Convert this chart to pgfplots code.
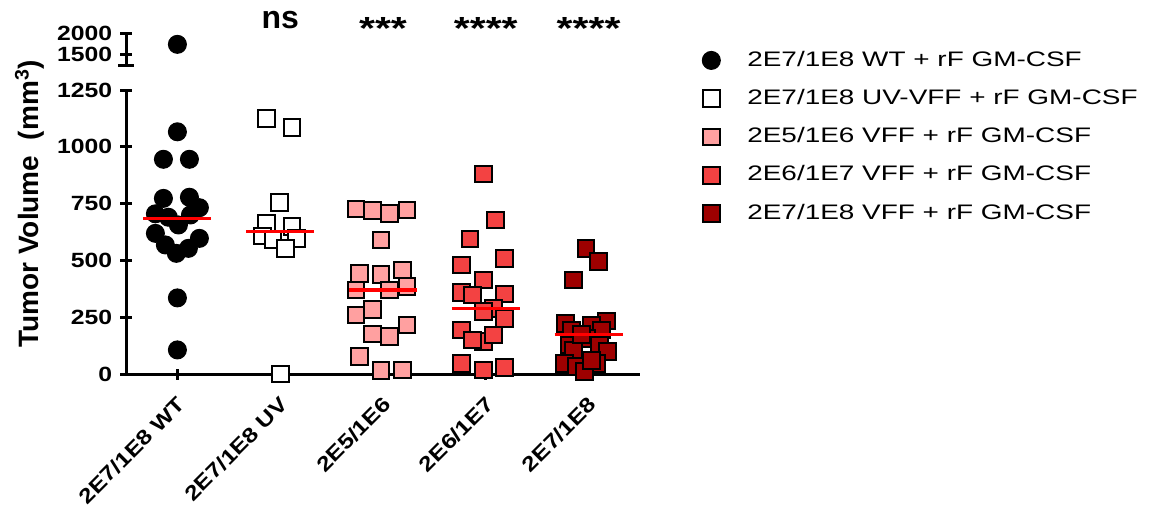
\documentclass[border=0pt]{standalone}
\usepackage{fontspec}
\setmainfont{Liberation Sans}
\newfontfamily\stretchfont[FakeStretch=1.2]{Liberation Sans}
\newfontfamily\astfont[FakeStretch=1.28]{Liberation Sans}
\newfontfamily\legfont[FakeStretch=1.33]{Liberation Sans}
\usepackage{pgfplots}
\pgfplotsset{compat=1.18}
\definecolor{pinkA}{RGB}{255,160,160}
\definecolor{redB}{RGB}{243,66,66}
\definecolor{darkC}{RGB}{158,0,0}
\pgfplotsset{
  gp/.style={
    scale only axis, width=257pt, xmin=-0.5, xmax=4.5, clip=false,
    clip marker paths=true,
    tick style={line width=1.5pt, black},
    major tick length=5.5pt, tick align=outside,
    ticklabel style={font=\stretchfont\bfseries\fontsize{10.3}{12}\selectfont},
    yticklabel style={inner sep=4pt},
  },
  noarrows/.style={axis line style={-, line width=1.5pt, black},
    every outer x axis line/.append style={-},
    every outer y axis line/.append style={-}},
  wt/.style={only marks, mark=*, mark size=4.5pt, mark options={fill=black, draw=black, line width=0.5pt}},
  uv/.style={only marks, mark=square*, mark size=4.2pt, mark options={fill=white, draw=black, line width=1pt}},
  e5/.style={only marks, mark=square*, mark size=4.2pt, mark options={fill=pinkA, draw=black, line width=1pt}},
  e6/.style={only marks, mark=square*, mark size=4.2pt, mark options={fill=redB, draw=black, line width=1pt}},
  e7/.style={only marks, mark=square*, mark size=4.2pt, mark options={fill=darkC, draw=black, line width=1pt}},
  med/.style={red, line width=1.6pt, forget plot},
}
\begin{document}
\begin{tikzpicture}
\useasboundingbox (0,0) rectangle (576pt,-254.5pt);
% upper segment of the broken axis
\begin{axis}[gp, at={(63pt,-32.65pt)}, anchor=south west, height=16pt,
  ymin=1250, ymax=2000, axis x line=none, axis y line=left, noarrows,
  xtick=\empty, ytick={1500,2000}, yticklabels={1500,2000},
  extra y ticks={1250}, extra y tick labels={},
  extra y tick style={major tick length=7.5pt, tick align=center}]
\addplot[wt] coordinates {(0,1741)};
\end{axis}
% lower segment
\begin{axis}[gp, at={(63pt,-187pt)}, anchor=south west, height=142pt,
  ymin=0, ymax=1250, axis x line=bottom, axis y line=left, noarrows,
  ytick={0,250,500,750,1000,1250}, yticklabels={0,250,500,750,1000,1250},
  xtick={0,1,2,3,4},
  xticklabels={2E7/1E8 WT, 2E7/1E8 UV, 2E5/1E6, 2E6/1E7, 2E7/1E8},
  xticklabel style={rotate=45, anchor=east, inner sep=0pt, xshift=-6pt, yshift=-9pt},
  ylabel={Tumor Volume\ \ (mm\textsuperscript{3})},
  ylabel style={at={(rel axis cs:-0.1693,0.600)}, anchor=base, font=\bfseries\fontsize{14}{16}\selectfont},
  legend style={at={(rel axis cs:1.1205,1.1408)}, anchor=north west, draw=none, fill=none,
    inner sep=0pt, row sep=9.15pt, column sep=13.5pt,
    font=\legfont\fontsize{10.5}{12}\selectfont,
    nodes={inner sep=0pt, text height=7.8pt, text depth=2.2pt}},
  legend cell align=left]
\addplot[wt] coordinates {(0,1066) (-0.136,945) (0.117,945) (-0.136,773) (0.117,778) (0.214,732) (-0.214,705) (0.127,700) (-0.088,690) (0.01,656) (-0.214,619) (0.214,597) (-0.117,568) (0.107,553) (-0.01,531) (0,335) (0,106)};
\addlegendentry{2E7/1E8 WT + rF GM-CSF}
\addplot[uv] coordinates {(0.87,1125) (1.114,1084) (0.993,754) (0.87,663) (1.114,648) (0.825,607) (0.929,590) (1.156,597) (1.049,553) (1,0)};
\addlegendentry{2E7/1E8 UV-VFF + rF GM-CSF}
\addplot[e5] coordinates {(1.737,726) (1.9,719) (2.061,707) (2.234,722) (1.981,590) (1.769,443) (1.981,439) (2.192,458) (1.737,370) (2.061,370) (2.234,384) (1.737,260) (1.9,285) (1.9,176) (2.061,164) (2.234,216) (1.769,76) (1.981,15) (2.192,18)};
\addlegendentry{2E5/1E6 VFF + rF GM-CSF}
\addplot[e6] coordinates {(2.978,880) (3.097,678) (2.847,594) (3.185,509) (2.763,480) (2.978,414) (2.763,360) (2.87,348) (3.185,352) (3.075,289) (2.978,274) (3.185,245) (2.763,194) (2.978,142) (3.075,172) (2.87,150) (2.763,47) (2.978,18) (3.185,29)};
\addlegendentry{2E6/1E7 VFF + rF GM-CSF}
\addplot[e7] coordinates {(3.974,553) (4.1,494) (3.851,414) (3.779,223) (4.175,233) (4.03,216) (3.834,194) (4.127,194) (3.98,157) (3.818,128) (4.107,128) (3.851,106) (4.182,98) (3.769,47) (3.883,32) (4.078,47) (3.964,10) (3.93,175) (4.03,60)};
\addlegendentry{2E7/1E8 VFF + rF GM-CSF}
\addplot[med] coordinates {(-0.33,685) (0.33,685)};
\addplot[med] coordinates {(0.67,627) (1.33,627)};
\addplot[med] coordinates {(1.67,370) (2.33,370)};
\addplot[med] coordinates {(2.67,289) (3.33,289)};
\addplot[med] coordinates {(3.67,175) (4.33,175)};
\node[anchor=base, font=\bfseries\fontsize{16}{18}\selectfont] at (axis cs:1,1521) {ns};
\node[anchor=base, font=\astfont\bfseries\fontsize{16}{18}\selectfont] at (axis cs:2,1474) {***};
\node[anchor=base, font=\astfont\bfseries\fontsize{16}{18}\selectfont] at (axis cs:3,1474) {****};
\node[anchor=base, font=\astfont\bfseries\fontsize{16}{18}\selectfont] at (axis cs:4,1474) {****};
\end{axis}
\end{tikzpicture}
\end{document}
